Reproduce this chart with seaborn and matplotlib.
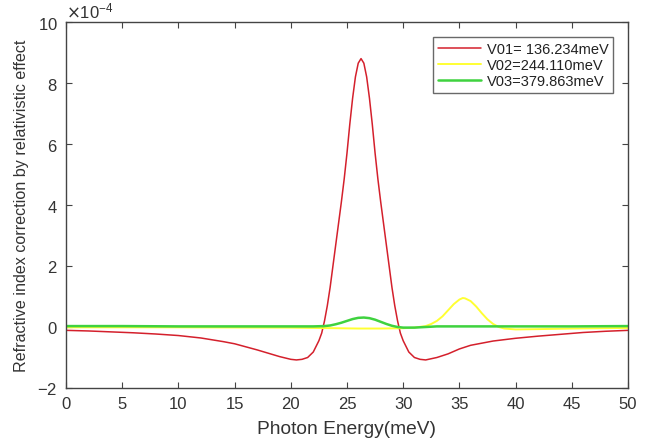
import numpy as np
import pandas as pd
import matplotlib
matplotlib.use("Agg")
import matplotlib.pyplot as plt
import seaborn as sns

# values, in units of 1e-4
x_red = [0, 2, 4, 6, 8, 10, 12, 14, 15, 16, 17, 18, 19, 20, 20.5, 21, 21.5, 22,
         22.5, 22.75, 23, 23.25, 23.5, 23.75, 24, 24.25, 24.5, 24.75, 25, 25.25,
         25.5, 25.75, 26, 26.25, 26.5, 26.75, 27, 27.25, 27.5, 27.75, 28, 28.25,
         28.5, 28.75, 29, 29.25, 29.5, 29.75, 30, 30.5, 31, 31.5, 32, 33, 34, 35,
         36, 38, 40, 42, 44, 46, 48, 50]
y_red = [-0.11, -0.13, -0.16, -0.19, -0.23, -0.28, -0.36, -0.48, -0.55, -0.65,
         -0.75, -0.86, -0.97, -1.06, -1.08, -1.06, -1.0, -0.82,
         -0.45, -0.2, 0.2, 0.7, 1.3, 2.0, 2.7, 3.4, 4.1, 4.85, 5.7, 6.65,
         7.5, 8.2, 8.65, 8.8, 8.65, 8.2, 7.5, 6.65, 5.7, 4.85, 4.1, 3.4,
         2.7, 2.0, 1.3, 0.7, 0.2, -0.2, -0.45, -0.82, -1.0, -1.06, -1.08, -1.0,
         -0.88, -0.72, -0.6, -0.46, -0.37, -0.3, -0.24, -0.18, -0.14, -0.11]

x_yellow = [0, 10, 20, 22, 24, 26, 28, 30, 31, 32, 32.5, 33, 33.5, 34, 34.5, 35,
            35.3, 35.5, 36, 36.5, 37, 37.5, 38, 38.5, 39, 40, 42, 45, 50]
y_yellow = [-0.01, -0.01, -0.02, -0.03, -0.04, -0.05, -0.05, -0.04, -0.02, 0.03,
            0.1, 0.2, 0.35, 0.55, 0.75, 0.9, 0.95, 0.94, 0.85, 0.67, 0.45, 0.25,
            0.1, 0.0, -0.05, -0.08, -0.07, -0.05, -0.03]

x_green = [0, 5, 10, 15, 20, 22, 23, 23.5, 24, 24.5, 25, 25.5, 26, 26.5, 27,
           27.5, 28, 28.5, 29, 29.5, 30, 31, 32, 33, 35, 40, 45, 50]
y_green = [0.03, 0.03, 0.02, 0.02, 0.02, 0.02, 0.03, 0.05, 0.09, 0.14, 0.2, 0.26,
           0.3, 0.31, 0.29, 0.24, 0.17, 0.1, 0.04, 0.0, -0.02, -0.02, 0.0, 0.02,
           0.02, 0.02, 0.02, 0.03]

labels = ["V01= 136.234meV", "V02=244.110meV", "V03=379.863meV"]
colors = ["#d4202c", "#ffff33", "#3fd23f"]
widths = [1.1, 1.4, 1.8]

sns.set_style("ticks")
plt.rcParams["font.family"] = ["Liberation Sans", "DejaVu Sans"]
plt.rcParams["axes.unicode_minus"] = False

fig = plt.figure(figsize=(6.49, 4.39), dpi=100)
ax = fig.add_axes([0.1017, 0.1139, 0.8659, 0.8337])

series = [(x_red, y_red), (x_yellow, y_yellow), (x_green, y_green)]
for (xs, ys), lab, c, lw in zip(series, labels, colors, widths):
    sns.lineplot(x=xs, y=np.array(ys) * 1e-4, ax=ax, color=c, linewidth=lw,
                 label=lab, estimator=None, sort=False)

ax.set_xlim(0, 50)
ax.set_ylim(-2e-4, 10e-4)
ax.set_xticks(range(0, 51, 5))
ax.set_yticks(np.arange(-2, 11, 2) * 1e-4)
ax.ticklabel_format(axis="y", style="sci", scilimits=(-4, -4), useMathText=True)
ax.yaxis.get_offset_text().set_fontsize(12)
ax.yaxis.get_offset_text().set_color("#333333")

for s in ax.spines.values():
    s.set_visible(True)
    s.set_color("#444444")
    s.set_linewidth(1.0)
ax.tick_params(direction="in", top=True, right=True, length=4, width=0.8,
               colors="#444444", labelcolor="#333333", labelsize=12, pad=6)

ax.set_xlabel("Photon Energy(meV)", fontsize=13.8, color="#333333", labelpad=6)
ax.set_ylabel("Refractive index correction by relativistic effect", fontsize=11.6,
              color="#333333")
ax.yaxis.set_label_coords(-0.066, 0.5)

leg = ax.legend(loc="upper right", fontsize=10.5, frameon=True, fancybox=False,
                edgecolor="#444444", handlelength=2.9, borderaxespad=1.0,
                labelspacing=0.15, borderpad=0.35, handletextpad=0.4)
leg.get_frame().set_linewidth(1.0)
for t in leg.get_texts():
    t.set_color("#222222")

fig.savefig("out.png", dpi=100)
